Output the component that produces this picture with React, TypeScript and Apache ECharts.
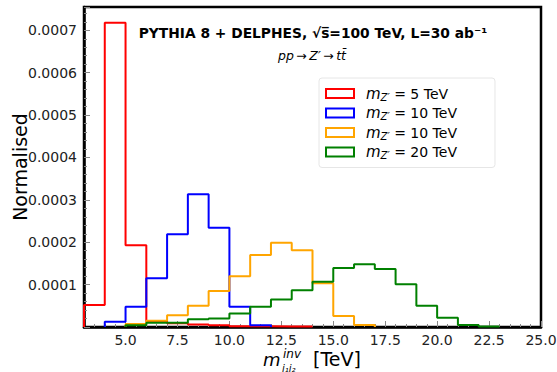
import React, { useEffect, useRef } from "react";
import * as echarts from "echarts";

const FONT = "DejaVu Sans";

// Invariant-mass histograms, 1 TeV bins. Each series: lower edge of its first bin + bin contents.
const seriesIds = ["zp5", "zp10a", "zp10b", "zp20"];
const massLabels = ["5", "10", "10", "20"];
const colors = ["#ff0000", "#0000ff", "#ffa500", "#008000"];
const firstEdges = [3, 4, 5, 5];

const zp5Values = [
  0.0000518, 0.000718, 0.000193, 0.000013, 0.000009, 0.000006, 0.000004,
  0.000002, 0.000002, 0.000001, 0.000001,
];
const zp10aValues = [
  0.0000125, 0.0000478, 0.000115, 0.000219, 0.000313, 0.000234, 0.0000478,
  0.000004,
];
const zp10bValues = [
  0.000007, 0.000015, 0.000028, 0.00005, 0.000085, 0.00012, 0.00017, 0.000199,
  0.000181, 0.000103, 0.000026, 0.000005,
];
const zp20Values = [
  0.000004, 0.00001, 0.00001, 0.000018, 0.00002, 0.000032, 0.000048, 0.000065,
  0.000087, 0.000107, 0.000139, 0.000148, 0.000137, 0.000101, 0.00005,
  0.000022, 0.000005, 0.000001,
];
const allValues = [zp5Values, zp10aValues, zp10bValues, zp20Values];

const xMajorTicks = [5, 7.5, 10, 12.5, 15, 17.5, 20, 22.5, 25];
const yMajorTicks = [0.0001, 0.0002, 0.0003, 0.0004, 0.0005, 0.0006, 0.0007];

const binWidth = 1;

// Outline of a step histogram: up at the first edge, across each bin, down at the last edge.
function stepOutline(start: number, values: number[]): number[][] {
  const pts: number[][] = [[start, 0]];
  values.forEach((v, i) => {
    pts.push([start + i * binWidth, v], [start + (i + 1) * binWidth, v]);
  });
  pts.push([start + values.length * binWidth, 0]);
  return pts;
}

const GRID = { left: 84, top: 7, right: 16, bottom: 45, outerBoundsMode: "none" };

export default function App() {
  const ref = useRef<HTMLDivElement>(null);

  useEffect(() => {
    document.body.style.margin = "0";
    if (!ref.current) return;
    const chart = echarts.init(ref.current, undefined, { renderer: "svg" });

    const tickStyle = { color: "#888", width: 1 };

    chart.setOption({
      animation: false,
      backgroundColor: "#fff",
      grid: [
        {
          ...GRID,
          show: true,
          borderColor: "#000",
          borderWidth: 2.5,
          backgroundColor: "transparent",
        },
        { ...GRID, show: false },
      ],
      xAxis: [
        {
          type: "value",
          gridIndex: 0,
          min: 3,
          max: 25,
          interval: 0.5,
          axisLine: { show: true, onZero: false, lineStyle: { color: "#000", width: 2.5 } },
          axisTick: { show: true, inside: true, length: 3, lineStyle: tickStyle },
          axisLabel: {
            customValues: xMajorTicks,
            formatter: (v: number) => v.toFixed(1),
            fontFamily: FONT,
            fontSize: 14,
            lineHeight: 14,
            color: "#222",
            margin: 6,
          },
          splitLine: { show: false },
        },
        {
          type: "value",
          gridIndex: 1,
          min: 3,
          max: 25,
          axisLine: { show: false },
          axisTick: {
            show: true,
            inside: true,
            length: 6,
            customValues: xMajorTicks,
            lineStyle: tickStyle,
          },
          axisLabel: { show: false },
          splitLine: { show: false },
        },
      ],
      yAxis: [
        {
          type: "value",
          gridIndex: 0,
          min: 0,
          max: 0.000755,
          interval: 0.0001,
          name: "Normalised",
          nameLocation: "middle",
          nameGap: 55,
          nameMoveOverlap: false,
          nameTextStyle: { fontFamily: FONT, fontSize: 19, color: "#000" },
          axisLine: { show: true, onZero: false, lineStyle: { color: "#000", width: 2.5 } },
          axisTick: { show: true, inside: true, length: 6, lineStyle: tickStyle },
          minorTick: { show: true, splitNumber: 5, length: 3, lineStyle: tickStyle },
          axisLabel: {
            formatter: (v: number) =>
              yMajorTicks.some((t) => Math.abs(t - v) < 1e-9) ? v.toFixed(4) : "",
            fontFamily: FONT,
            fontSize: 14,
            color: "#222",
            margin: 7,
          },
          splitLine: { show: false },
          minorSplitLine: { show: false },
        },
        { type: "value", gridIndex: 1, show: false, min: 0, max: 1 },
      ],
      legend: {
        orient: "vertical",
        left: 319,
        top: 78,
        selectedMode: false,
        data: seriesIds.map((id, i) => ({
          name: id,
          icon: "rect",
          itemStyle: { color: "rgba(0,0,0,0)", borderColor: colors[i], borderWidth: 2 },
        })),
        itemWidth: 28,
        itemHeight: 9,
        itemGap: 3.5,
        padding: [8, 38, 7, 6],
        borderColor: "#e6e6e6",
        borderWidth: 1,
        borderRadius: 3,
        backgroundColor: "rgba(255,255,255,0.8)",
        formatter: (name: string) => {
          const i = seriesIds.indexOf(name);
          return `{m|m}{s|Z′}{t| = ${massLabels[i]} TeV}`;
        },
        textStyle: {
          color: "#000",
          rich: {
            m: {
              fontFamily: FONT,
              fontStyle: "italic",
              fontSize: 15,
              lineHeight: 17,
              padding: [0, 0, 0, 7],
              color: "#000",
            },
            s: {
              fontFamily: FONT,
              fontStyle: "italic",
              fontSize: 10,
              lineHeight: 10,
              verticalAlign: "bottom",
              color: "#000",
            },
            t: { fontFamily: FONT, fontSize: 14, lineHeight: 17, color: "#000" },
          },
        },
      },
      graphic: [
        {
          type: "text",
          x: 313,
          y: 33,
          style: {
            text: "PYTHIA 8 + DELPHES, √s̅=100 TeV, L=30 ab⁻¹",
            font: `bold 13.8px "${FONT}"`,
            fill: "#000",
            align: "center",
            verticalAlign: "middle",
          },
        },
        {
          type: "text",
          x: 312,
          y: 55,
          style: {
            text: "{i|pp}\u2009→\u2009{i|Z′}\u2009→\u2009{i|tt̄}",
            font: `12.5px "${FONT}"`,
            fill: "#000",
            align: "center",
            verticalAlign: "middle",
            rich: { i: { fontFamily: FONT, fontStyle: "italic", fontSize: 12.5 } },
          },
        },
        {
          type: "group",
          children: [
            {
              type: "text",
              x: 263,
              y: 359,
              style: {
                text: "m",
                font: `italic 18px "${FONT}"`,
                fill: "#000",
                align: "left",
                verticalAlign: "middle",
              },
            },
            {
              type: "text",
              x: 283,
              y: 354,
              style: {
                text: "inv",
                font: `italic 12px "${FONT}"`,
                fill: "#000",
                align: "left",
                verticalAlign: "middle",
              },
            },
            {
              type: "text",
              x: 282,
              y: 368,
              style: {
                text: "j₁j₂",
                font: `italic 10px "${FONT}"`,
                fill: "#000",
                align: "left",
                verticalAlign: "middle",
              },
            },
            {
              type: "text",
              x: 313,
              y: 359,
              style: {
                text: "[TeV]",
                font: `19px "${FONT}"`,
                fill: "#000",
                align: "left",
                verticalAlign: "middle",
              },
            },
          ],
        },
      ],
      series: seriesIds.map((id, i) => ({
        name: id,
        type: "line",
        xAxisIndex: 0,
        yAxisIndex: 0,
        data: stepOutline(firstEdges[i], allValues[i]),
        showSymbol: false,
        symbol: "none",
        lineStyle: { color: colors[i], width: 2 },
        itemStyle: { color: colors[i] },
        z: 2 + i,
        silent: true,
      })),
    });

    return () => chart.dispose();
  }, []);

  return <div ref={ref} style={{ width: 557, height: 372 }} />;
}
